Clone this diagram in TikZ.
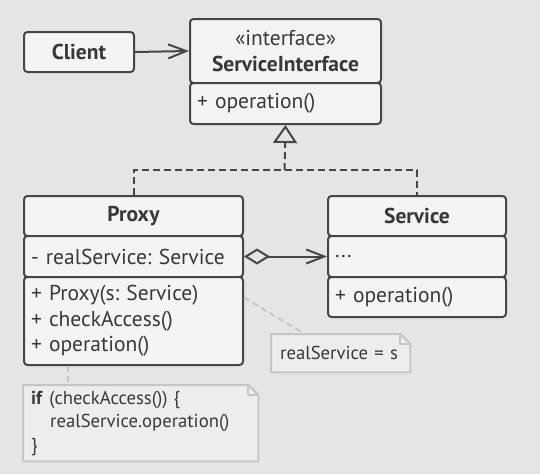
\documentclass[tikz,border=0pt]{standalone}
\usepackage{fontspec}
\setmainfont{PT Sans}
\frenchspacing
\usetikzlibrary{arrows.meta, backgrounds}
\definecolor{bgc}{HTML}{E5E5E5}
\definecolor{boxc}{HTML}{F4F4F4}
\definecolor{linec}{HTML}{464646}
\definecolor{txtc}{HTML}{383838}
\definecolor{notec}{HTML}{C6C6C6}
\definecolor{notefill}{HTML}{EDEDED}

\tikzset{
  cell/.style={draw=linec, fill=boxc, line width=2pt, rounded corners=3.5pt,
    anchor=north west, inner xsep=7pt, inner ysep=0pt, text=txtc,
    font=\fontsize{21.5}{25.5}\selectfont},
  cellleft/.style={cell, align=left},
  celltitle/.style={cell, align=center, font=\fontsize{21.5}{25}\selectfont\bfseries},
  note/.style={anchor=north west, inner xsep=9pt, inner ysep=0pt, text=txtc,
    align=left, font=\fontsize{18.7}{23.5}\selectfont},
  noteline/.style={draw=notec, line width=2pt, dash pattern=on 6pt off 4pt},
  realize/.style={draw=linec, line width=2pt, dash pattern=on 7pt off 4pt},
  assoc/.style={draw=linec, line width=2pt, -{Straight Barb[length=18pt,width=14pt]}}
}
% folded note outline round a named node
\newcommand{\notebox}[1]{%
  \draw[draw=notec, fill=notefill, line width=2pt, line join=round]
    (#1.north west) -- ([xshift=-10pt]#1.north east) -- ([yshift=-10pt]#1.north east)
    -- (#1.south east) -- (#1.south west) -- cycle;
  \draw[draw=notec, line width=2pt, line join=round]
    ([xshift=-10pt]#1.north east) |- ([yshift=-10pt]#1.north east);
}

\begin{document}
\begin{tikzpicture}[x=1pt,y=-1pt]
  \begin{scope}[on background layer]
    \fill[bgc] (0,0) rectangle (540,474);
  \end{scope}
  \useasboundingbox (0,0) rectangle (540,474);

  % Interface
  \node[cell, align=center, minimum width=191pt, minimum height=64pt] (sititle) at (189,18)
    {«interface»\\[0pt]\textbf{ServiceInterface}};
  \node[cellleft, minimum width=191pt, text width=177pt, minimum height=41pt] (siops) at (189,82)
    {+ operation()};

  % Client
  \node[celltitle, minimum width=110pt, minimum height=40pt] (client) at (23,31) {Client};

  % Proxy
  \node[celltitle, minimum width=219pt, minimum height=40pt] (ptitle) at (23,195) {Proxy};
  \node[cellleft, minimum width=219pt, text width=205pt, minimum height=41pt] (pattr) at (23,235)
    {- realService: Service};
  \node[cellleft, minimum width=219pt, text width=205pt, minimum height=88pt] (pops) at (23,276)
    {+ Proxy(s: Service)\\+ checkAccess()\\+ operation()};

  % Service
  \node[celltitle, minimum width=178pt, minimum height=40pt] (stitle) at (327,195) {Service};
  \node[cellleft, minimum width=178pt, text width=164pt, minimum height=41pt] (sattr) at (327,235)
    {...};
  \node[cellleft, minimum width=178pt, text width=164pt, minimum height=40pt] (sops) at (327,276)
    {+ operation()};

  % Notes
  \node[note, minimum width=139pt, text width=121pt, minimum height=38pt] (note1) at (271,334)
    {realService = s};
  \node[note, inner xsep=8pt, minimum width=235pt, text width=219pt, minimum height=76pt] (note2) at (23,385)
    {\textbf{if} (checkAccess()) \{\\\hspace*{19pt}realService.operation()\\\}};
  \begin{scope}[on background layer]
    \notebox{note1}
    \notebox{note2}
  \end{scope}

  % Connectors
  \coordinate (join) at (284.5,170);
  \draw[assoc] (client.east) -- (sititle.west);
  \draw[realize] (ptitle.north) |- (join) -| (stitle.north);
  \draw[realize, -{Triangle[open, length=18pt, width=24pt]}] (join) -- (siops.south);
  \draw[assoc, {Diamond[open, length=26pt, width=16pt]}-{Straight Barb[length=18pt,width=14pt]}]
    (pattr.east) -- (sattr.west);
  \draw[noteline] (pops.12) -- (note1.152);
  \draw[noteline] ([xshift=45pt]pops.south west) -- ([xshift=45pt]note2.north west);
\end{tikzpicture}
\end{document}
